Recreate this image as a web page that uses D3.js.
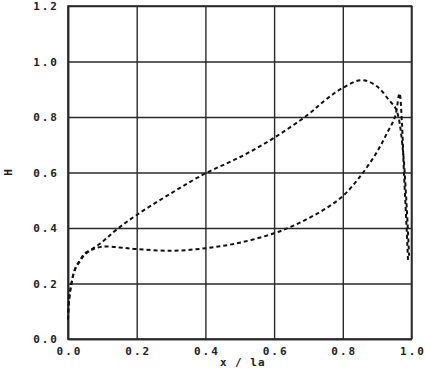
<!DOCTYPE html>
<html>
  <head>
    <meta charset="utf-8">
    <title>H vs x / la</title>
    <style>
      body { margin: 0; background: #fff; }
      text { font-family: "DejaVu Sans Mono", monospace; font-weight: bold; fill: #222; }
    </style>
  </head>
  <body>
    <div id="container"></div>
    <script src="https://d3js.org/d3.v7.min.js"></script>
    <script>

      // DATA
      var upperX = [0.0, 0.003, 0.01, 0.02, 0.035, 0.05, 0.1, 0.142, 0.2, 0.3, 0.4, 0.5, 0.6, 0.7, 0.75, 0.8, 0.855, 0.9, 0.935, 0.952, 0.962, 0.975, 0.985, 0.993];
      var upperY = [0.07, 0.14, 0.2, 0.25, 0.28, 0.305, 0.35, 0.395, 0.447, 0.525, 0.597, 0.655, 0.725, 0.81, 0.862, 0.905, 0.933, 0.91, 0.86, 0.835, 0.8, 0.68, 0.5, 0.3];
      var lowerX = [0.0, 0.003, 0.01, 0.02, 0.035, 0.05, 0.07, 0.1, 0.15, 0.2, 0.3, 0.4, 0.5, 0.6, 0.65, 0.7, 0.75, 0.8, 0.85, 0.9, 0.93, 0.952, 0.965, 0.972, 0.978, 0.985, 0.99];
      var lowerY = [0.07, 0.14, 0.2, 0.25, 0.285, 0.31, 0.322, 0.333, 0.33, 0.324, 0.318, 0.327, 0.347, 0.381, 0.405, 0.435, 0.47, 0.515, 0.585, 0.675, 0.745, 0.8, 0.885, 0.78, 0.6, 0.42, 0.28];
      var xTicks = [0, 0.2, 0.4, 0.6, 0.8, 1.0];
      var yTicks = [0, 0.2, 0.4, 0.6, 0.8, 1.0, 1.2];

      // SET DIMENSIONS & MARGINS
      var margin = { top: 6, right: 13.5, bottom: 29, left: 68 },
        width = 425 - margin.left - margin.right,
        height = 368 - margin.top - margin.bottom;

      var svg = d3.select("#container")
        .append("svg")
        .attr("width", 425)
        .attr("height", 368)
        .append("g")
        .attr("transform", "translate(" + margin.left + "," + margin.top + ")");

      var x = d3.scaleLinear().domain([0, 1]).range([0, width]);
      var y = d3.scaleLinear().domain([0, 1.2]).range([height, 0]);

      // GRID + AXES
      var xAxis = svg.append("g")
        .attr("transform", "translate(0," + height + ")")
        .call(d3.axisBottom(x).tickValues(xTicks).tickFormat(d3.format(".1f"))
          .tickSizeInner(-height).tickSizeOuter(0).tickPadding(8));
      var yAxis = svg.append("g")
        .call(d3.axisLeft(y).tickValues(yTicks).tickFormat(d3.format(".1f"))
          .tickSizeInner(-width).tickSizeOuter(0).tickPadding(9));

      [xAxis, yAxis].forEach(function (a) {
        a.selectAll("line").attr("stroke", "#2a2a2a").attr("stroke-width", 1.4);
        a.select(".domain").attr("stroke", "#2a2a2a").attr("stroke-width", 1.6);
        a.selectAll("text")
          .style("font-size", "11px")
          .style("letter-spacing", "2px")
          .attr("fill", "#222");
      });
      xAxis.selectAll("text").attr("dx", "1px");

      // frame on top/right
      svg.append("rect")
        .attr("x", 0).attr("y", 0)
        .attr("width", width).attr("height", height)
        .attr("fill", "none")
        .attr("stroke", "#2a2a2a")
        .attr("stroke-width", 1.6);

      // AXIS LABELS
      svg.append("text")
        .attr("x", x(0.5) + 3)
        .attr("y", height + 27)
        .attr("text-anchor", "middle")
        .style("font-size", "11px")
        .style("letter-spacing", "1px")
        .text("x / la");

      svg.append("text")
        .attr("transform", "translate(" + (-56) + "," + (y(0.6)) + ")rotate(-90)")
        .attr("text-anchor", "middle")
        .style("font-size", "11px")
        .text("H");

      // CURVES
      var line = d3.line()
        .x(function (d) { return x(d[0]); })
        .y(function (d) { return y(d[1]); })
        .curve(d3.curveCatmullRom.alpha(0.5));

      var upper = upperX.map(function (v, i) { return [v, upperY[i]]; });
      var lower = lowerX.map(function (v, i) { return [v, lowerY[i]]; });

      svg.selectAll(".curve")
        .data([upper, lower])
        .enter()
        .append("path")
        .attr("class", "curve")
        .attr("d", line)
        .attr("fill", "none")
        .attr("stroke", "#111")
        .attr("stroke-width", 2)
        .attr("stroke-dasharray", "4,3");

    </script>
  </body>
</html>
